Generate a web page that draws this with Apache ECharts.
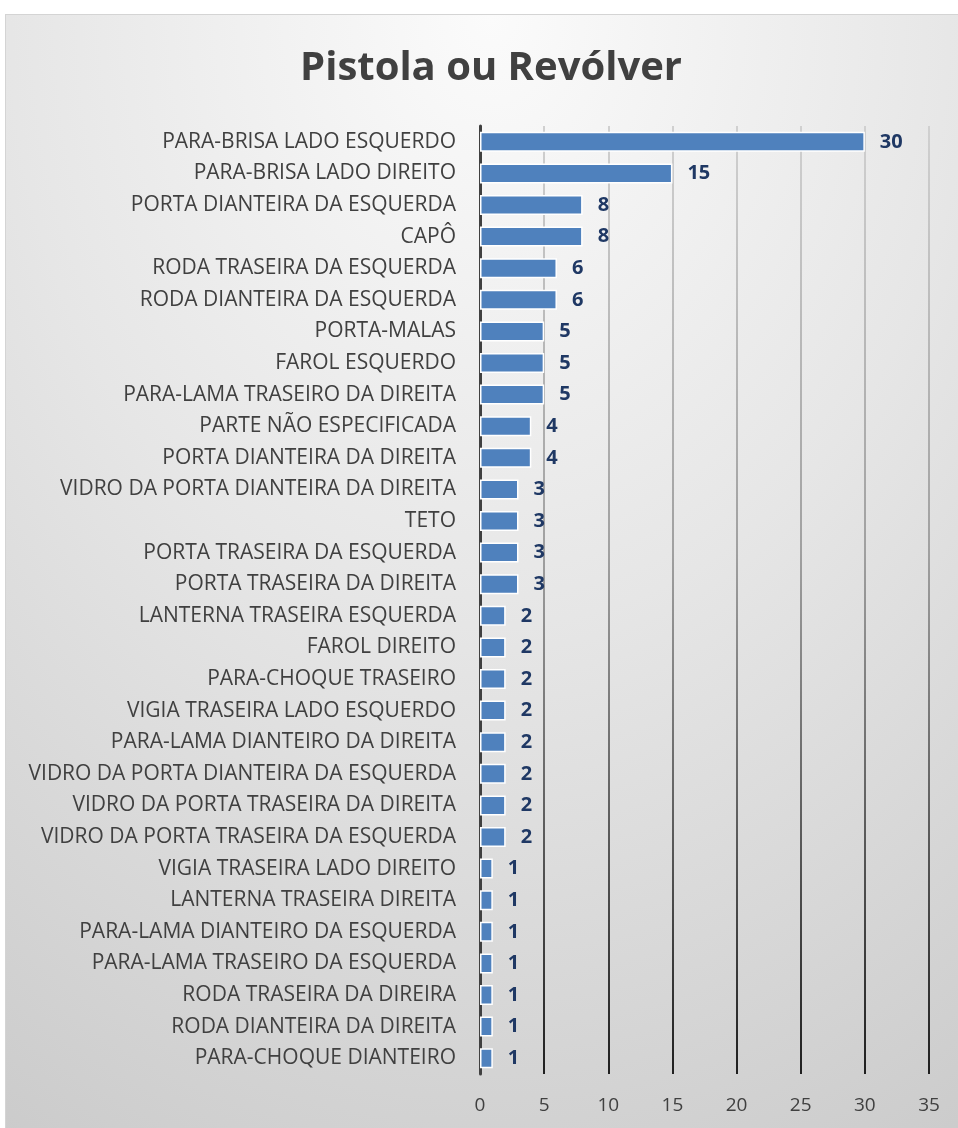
<!DOCTYPE html>
<html>
<head>
<meta charset="utf-8">
<script src="https://cdn.jsdelivr.net/npm/echarts@6/dist/echarts.min.js"></script>
<style>
    html,body{margin:0;padding:0;background:#fff;}
    .frame{
        position:absolute;
        left:5px;top:14px;
        width:970px;height:1130px;
        border:1px solid #d4d4d4;
        background:radial-gradient(ellipse 110% 120% at 50% 0%, #fbfbfb 0%, #e6e6e6 45%, #c8c8c8 100%);
    }
    #chart{position:absolute;left:0;top:0;width:958px;height:1128px;}
</style>
</head>
<body>
<div class="frame"></div>
<div id="chart"></div>
<script>
    const categories = [
        'PARA-BRISA LADO ESQUERDO',
        'PARA-BRISA LADO DIREITO',
        'PORTA DIANTEIRA DA ESQUERDA',
        'CAPÔ',
        'RODA TRASEIRA DA ESQUERDA',
        'RODA DIANTEIRA DA ESQUERDA',
        'PORTA-MALAS',
        'FAROL ESQUERDO',
        'PARA-LAMA TRASEIRO DA DIREITA',
        'PARTE NÃO ESPECIFICADA',
        'PORTA DIANTEIRA DA DIREITA',
        'VIDRO DA PORTA DIANTEIRA DA DIREITA',
        'TETO',
        'PORTA TRASEIRA DA ESQUERDA',
        'PORTA TRASEIRA DA DIREITA',
        'LANTERNA TRASEIRA ESQUERDA',
        'FAROL DIREITO',
        'PARA-CHOQUE TRASEIRO',
        'VIGIA TRASEIRA LADO ESQUERDO',
        'PARA-LAMA DIANTEIRO DA DIREITA',
        'VIDRO DA PORTA DIANTEIRA DA ESQUERDA',
        'VIDRO DA PORTA TRASEIRA DA DIREITA',
        'VIDRO DA PORTA TRASEIRA DA ESQUERDA',
        'VIGIA TRASEIRA LADO DIREITO',
        'LANTERNA TRASEIRA DIREITA',
        'PARA-LAMA DIANTEIRO DA ESQUERDA',
        'PARA-LAMA TRASEIRO DA ESQUERDA',
        'RODA TRASEIRA DA DIREIRA',
        'RODA DIANTEIRA DA DIREITA',
        'PARA-CHOQUE DIANTEIRO'
    ];
    const values = [30,15,8,8,6,6,5,5,5,4,4,3,3,3,3,2,2,2,2,2,2,2,2,1,1,1,1,1,1,1];
    const titleText = 'Pistola ou Revólver';

    let myChart = echarts.init(document.getElementById('chart'));
    myChart.setOption({
        animation:false,
        backgroundColor:'transparent',
        title:{
            text:titleText,
            left:486,
            textAlign:'center',
            top:44,
            textStyle:{
                fontFamily:'Open Sans',
                fontSize:40,
                fontWeight:'bold',
                color:'#404040'
            }
        },
        grid:{
            left:480,
            right:29,
            top:126,
            bottom:54,
            containLabel:false
        },
        xAxis:{
            type:'value',
            min:0,
            max:35,
            interval:5,
            axisLine:{show:false},
            axisTick:{show:false},
            axisLabel:{
                margin:22,
                fontFamily:'Open Sans',
                fontSize:19,
                color:'#404040'
            },
            splitLine:{
                show:true,
                lineStyle:{
                    width:2,
                    color:{
                        type:'linear',
                        global:true,
                        x:0,y:126,x2:0,y2:1074,
                        colorStops:[
                            {offset:0,color:'#d0d0d0'},
                            {offset:0.45,color:'#a0a0a0'},
                            {offset:1,color:'#202020'}
                        ]
                    }
                }
            }
        },
        yAxis:{
            type:'category',
            inverse:true,
            data:categories,
            axisLine:{lineStyle:{color:'#404040',width:3}},
            axisTick:{show:false},
            axisLabel:{
                margin:24,
                fontFamily:'Open Sans',
                fontSize:21,
                color:'#404040'
            }
        },
        series:[{
            type:'bar',
            data:values,
            barWidth:20,
            itemStyle:{
                color:'#4f81bd',
                borderColor:'#ffffff',
                borderWidth:1.5
            },
            label:{
                show:true,
                position:'right',
                distance:15,
                fontFamily:'Open Sans',
                fontSize:20,
                fontWeight:'bold',
                color:'#1f3864'
            }
        }]
    });
</script>
</body>
</html>
